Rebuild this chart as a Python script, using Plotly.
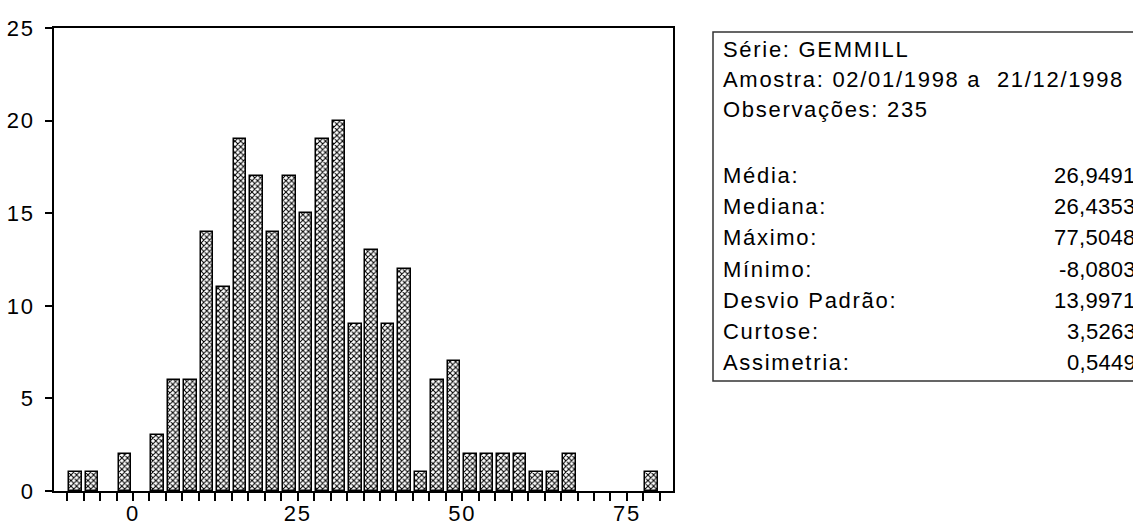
import plotly.graph_objects as go

# ---- data ----
bin_centers = [-8.75, -6.25, -3.75, -1.25, 1.25, 3.75, 6.25, 8.75, 11.25, 13.75,
               16.25, 18.75, 21.25, 23.75, 26.25, 28.75, 31.25, 33.75, 36.25, 38.75,
               41.25, 43.75, 46.25, 48.75, 51.25, 53.75, 56.25, 58.75, 61.25, 63.75,
               66.25, 68.75, 71.25, 73.75, 76.25, 78.75]
counts = [1, 1, 0, 2, 0, 3, 6, 6, 14, 11,
          19, 17, 14, 17, 15, 19, 20, 9, 13, 9,
          12, 1, 6, 7, 2, 2, 2, 2, 1, 1,
          2, 0, 0, 0, 0, 1]
x_ticks = [0, 25, 50, 75]
y_ticks = [0, 5, 10, 15, 20, 25]

header_lines = ["Série: GEMMILL", "Amostra: 02/01/1998 a  21/12/1998", "Observações: 235"]
stat_labels = ["Média:", "Mediana:", "Máximo:", "Mínimo:", "Desvio Padrão:", "Curtose:", "Assimetria:"]
stat_values = ["26,9491", "26,4353", "77,5048", "-8,0803", "13,9971", "3,5263", "0,5449"]

# ---- layout geometry (pixels) ----
FW, FH = 1133, 525
L, R, T, B = 54, 673, 28, 491
PW, PH = R - L, B - T
FONT = "Liberation Sans, Arial, sans-serif"
LS = "letter-spacing:1.7px"
LS_VAL = "letter-spacing:0.3px"
FS = 22


def px_x(px):
    return (px - L) / PW


def px_y(py):
    return (B - py) / PH


def sp(s, style=LS):
    return f"<span style='{style}'>{s}</span>"


# empty bins are not drawn
bx = [c for c, n in zip(bin_centers, counts) if n > 0]
by = [n for n in counts if n > 0]

fig = go.Figure()
fig.add_trace(go.Bar(
    x=bx, y=by, width=1.9,
    marker=dict(color="white",
                line=dict(color="black", width=1.5),
                pattern=dict(shape="x", size=4, solidity=0.45,
                             fgcolor="black", bgcolor="white", fillmode="replace")),
    showlegend=False, hoverinfo="skip",
))

annotations = []
header_y = [50, 79.5, 109]
for txt, py in zip(header_lines, header_y):
    annotations.append(dict(x=px_x(721), y=px_y(py), xref="paper", yref="paper",
                            text=sp(txt), showarrow=False, xanchor="left", yanchor="middle",
                            font=dict(family=FONT, size=FS, color="black")))
stat_y = [175, 206.3, 237.6, 269, 300.3, 331.6, 363]
for lab, val, py in zip(stat_labels, stat_values, stat_y):
    annotations.append(dict(x=px_x(721), y=px_y(py), xref="paper", yref="paper",
                            text=sp(lab), showarrow=False, xanchor="left", yanchor="middle",
                            font=dict(family=FONT, size=FS, color="black")))
    annotations.append(dict(x=px_x(1138), y=px_y(py), xref="paper", yref="paper",
                            text=sp(val, LS_VAL), showarrow=False, xanchor="right", yanchor="middle",
                            font=dict(family=FONT, size=FS, color="black")))

fig.update_layout(
    width=FW, height=FH,
    margin=dict(l=L, r=FW - R, t=T, b=FH - B, pad=0),
    paper_bgcolor="white", plot_bgcolor="white",
    bargap=0,
    xaxis=dict(range=[-12, 82], showgrid=False, zeroline=False, automargin=False,
               showline=True, mirror=True, linecolor="black", linewidth=2,
               ticks="outside", ticklen=8, tickwidth=1.5, tickcolor="black",
               tickvals=x_ticks, ticktext=[sp(str(v)) for v in x_ticks],
               ticklabelstandoff=-6,
               tickfont=dict(family=FONT, size=FS, color="black"),
               minor=dict(ticks="outside", dtick=2.5, tick0=0, ticklen=8,
                          tickwidth=1.5, tickcolor="black", showgrid=False)),
    yaxis=dict(range=[0, 25], showgrid=False, zeroline=False, automargin=False,
               showline=True, mirror=True, linecolor="black", linewidth=2,
               ticks="outside", ticklen=7, tickwidth=1.5, tickcolor="black",
               tickvals=y_ticks, ticktext=[sp(str(v)) for v in y_ticks],
               ticklabelstandoff=6,
               tickfont=dict(family=FONT, size=FS, color="black")),
    shapes=[dict(type="rect", xref="paper", yref="paper",
                 x0=px_x(713), x1=px_x(1150), y0=px_y(381), y1=px_y(32),
                 line=dict(color="#333333", width=1.5), fillcolor="rgba(0,0,0,0)")],
    annotations=annotations,
)

fig.write_html("out.html")
